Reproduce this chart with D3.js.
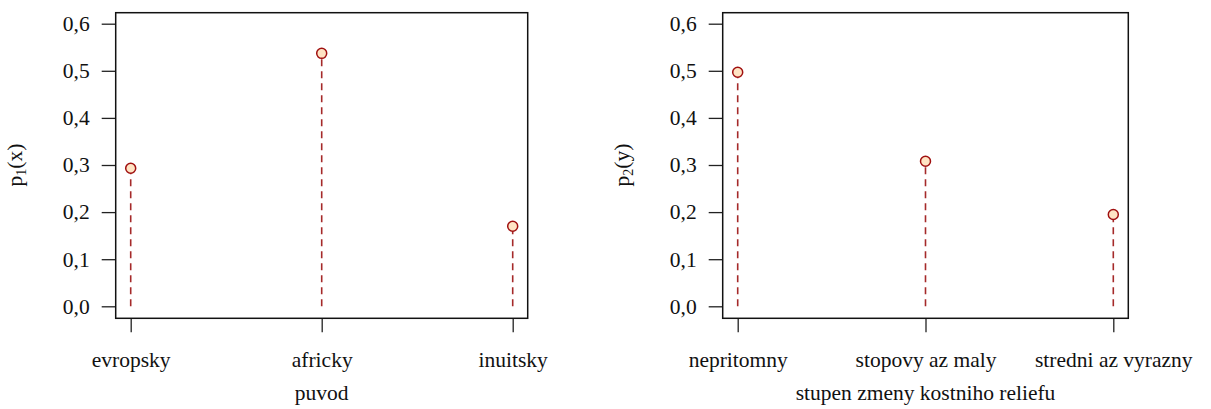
<!DOCTYPE html>
<html>
<head>
<meta charset="utf-8">
<script src="https://cdn.jsdelivr.net/npm/d3@7"></script>
<style>
  body { margin: 0; background: #fff; }
  svg text { font-family: "Liberation Serif", "Times New Roman", Times, "Nimbus Roman", Tinos, "DejaVu Serif", serif; }
</style>
</head>
<body>
<script>
// data for the two panels
var puvod = ["evropsky", "africky", "inuitsky"];
var p1 = [0.293, 0.537, 0.170];
var relief = ["nepritomny", "stopovy az maly", "stredni az vyrazny"];
var p2 = [0.497, 0.308, 0.195];
var yTicks = [0, 0.1, 0.2, 0.3, 0.4, 0.5, 0.6];

var svg = d3.select("body").append("svg")
  .attr("width", 1211)
  .attr("height", 409);

function drawPanel(box, cats, vals, xlab, ysub, yvar, ylabX) {
  var g = svg.append("g");

  var x = d3.scalePoint()
    .domain(cats)
    .range([box.x0 + 15, box.x1 - 15]);
  var y = d3.scaleLinear()
    .domain([0, 0.6])
    .range([306.3, 23.7]);

  // y axis
  var ya = g.append("g")
    .attr("transform", "translate(" + box.x0 + ",0)")
    .call(d3.axisLeft(y).tickValues(yTicks).tickSize(14).tickPadding(12)
      .tickFormat(function(d) { return d3.format(".1f")(d).replace(".", ","); }));
  ya.select(".domain").remove();
  ya.selectAll("line").attr("stroke", "#222").attr("stroke-width", 1.3);
  ya.selectAll("text").attr("font-size", "21.5px").attr("fill", "#111");

  // x axis
  var xa = g.append("g")
    .attr("transform", "translate(0," + box.y1 + ")")
    .call(d3.axisBottom(x).tickSize(14).tickPadding(19));
  xa.select(".domain").remove();
  xa.selectAll("line").attr("stroke", "#222").attr("stroke-width", 1.3);
  xa.selectAll("text").attr("font-size", "21.5px").attr("fill", "#111");

  // box
  g.append("rect")
    .attr("x", box.x0).attr("y", box.y0)
    .attr("width", box.x1 - box.x0).attr("height", box.y1 - box.y0)
    .attr("fill", "none").attr("stroke", "#111").attr("stroke-width", 1.5);

  // dashed stems
  g.selectAll(".stem")
    .data(vals)
    .enter().append("line")
    .attr("class", "stem")
    .attr("x1", function(d, i) { return x(cats[i]); })
    .attr("x2", function(d, i) { return x(cats[i]); })
    .attr("y1", y(0))
    .attr("y2", function(d) { return y(d); })
    .attr("stroke", "#a52a2a")
    .attr("stroke-width", 1.6)
    .attr("stroke-dasharray", "7,5");

  // points
  g.selectAll(".pt")
    .data(vals)
    .enter().append("circle")
    .attr("class", "pt")
    .attr("cx", function(d, i) { return x(cats[i]); })
    .attr("cy", function(d) { return y(d); })
    .attr("r", 5)
    .attr("fill", "#ffe4c4")
    .attr("stroke", "#a01010")
    .attr("stroke-width", 1.5);

  // axis titles
  g.append("text")
    .attr("x", (box.x0 + box.x1) / 2)
    .attr("y", 400)
    .attr("text-anchor", "middle")
    .attr("font-size", "21.5px")
    .attr("fill", "#111")
    .text(xlab);

  var yl = g.append("text")
    .attr("transform", "translate(" + ylabX + ",165) rotate(-90)")
    .attr("text-anchor", "middle")
    .attr("font-size", "21.5px")
    .attr("fill", "#111");
  yl.append("tspan").text("p");
  yl.append("tspan").attr("font-size", "14px").attr("dy", 4).text(ysub);
  yl.append("tspan").attr("dy", -4).text("(" + yvar + ")");
}

drawPanel({x0: 115.7, x1: 527.7, y0: 12.7, y1: 318.3}, puvod, p1, "puvod", "1", "x", 22);
drawPanel({x0: 722.7, x1: 1128.3, y0: 12.7, y1: 318.3}, relief, p2, "stupen zmeny kostniho reliefu", "2", "y", 629);
</script>
</body>
</html>
